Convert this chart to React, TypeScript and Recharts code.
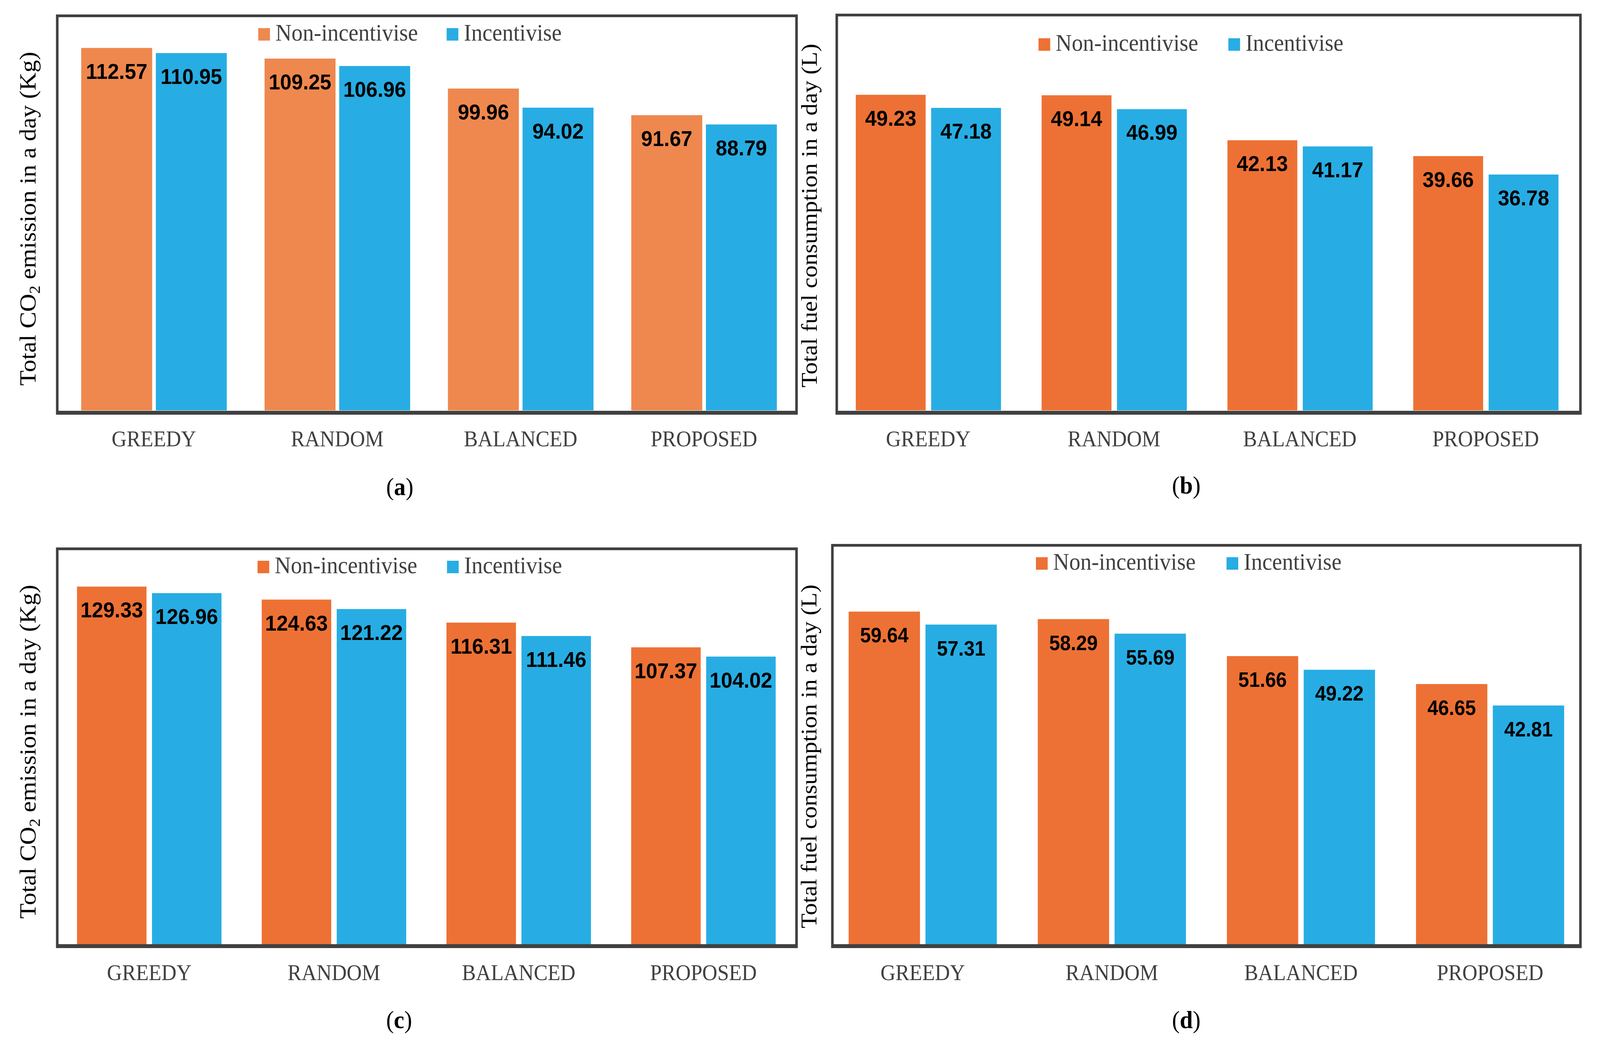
import React, { useLayoutEffect, useState } from "react";
import { BarChart, Bar, XAxis, YAxis, Legend, LabelList } from "recharts";

// categories shared by all four panels
const categories = ["GREEDY", "RANDOM", "BALANCED", "PROPOSED"];

// (a) CO2 emission, scenario 1 (Kg)
const co2NonIncA = [112.57, 109.25, 99.96, 91.67];
const co2IncA = [110.95, 106.96, 94.02, 88.79];

// (b) fuel consumption, scenario 1 (L)
const fuelNonIncB = [49.23, 49.14, 42.13, 39.66];
const fuelIncB = [47.18, 46.99, 41.17, 36.78];

// (c) CO2 emission, scenario 2 (Kg)
const co2NonIncC = [129.33, 124.63, 116.31, 107.37];
const co2IncC = [126.96, 121.22, 111.46, 104.02];

// (d) fuel consumption, scenario 2 (L)
const fuelNonIncD = [59.64, 58.29, 51.66, 46.65];
const fuelIncD = [57.31, 55.69, 49.22, 42.81];

const seriesNames = ["Non-incentivise", "Incentivise"];

const PAGE_W = 4374;
const PAGE_H = 2689;
const Y_W = 100;
const X_H = 100;

const BLUE = "#27ADE3";
const GREY = "#404040";
const SERIF = '"Liberation Serif", "Times New Roman", serif';
const SANS = '"Liberation Sans", Arial, sans-serif';

type Panel = {
  id: string;
  non: number[];
  inc: number[];
  orange: string;
  yTitle: "co2" | "fuel";
  yMax: number;
  ppu: number; // pixels per unit
  plotLeft: number;
  plotRight: number;
  plotBottom: number;
  barSize: number;
  barGap: number;
  labelSize: number;
  frame: { left: number; top: number; width: number; height: number };
  legend: { left: number; baseline: number; itemGap: number };
  titleX: number;
  titleY: number;
  captionX: number;
  captionY: number;
};

const panels: Panel[] = [
  {
    id: "a",
    non: co2NonIncA,
    inc: co2IncA,
    orange: "#EE884E",
    yTitle: "co2",
    yMax: 120,
    ppu: 8.246,
    plotLeft: 170,
    plotRight: 2175,
    plotBottom: 1051,
    barSize: 194,
    barGap: 10,
    labelSize: 56,
    frame: { left: 153, top: 37, width: 2028, height: 1025 },
    legend: { left: 706, baseline: 104, itemGap: 515 },
    titleX: 97,
    titleY: 560,
    captionX: 1093,
    captionY: 1268,
  },
  {
    id: "b",
    non: fuelNonIncB,
    inc: fuelIncB,
    orange: "#ED7134",
    yTitle: "fuel",
    yMax: 60,
    ppu: 16.42,
    plotLeft: 2283.5,
    plotRight: 4315.5,
    plotBottom: 1051,
    barSize: 191,
    barGap: 15,
    labelSize: 56,
    frame: { left: 2284, top: 35, width: 2040, height: 1027 },
    legend: { left: 2839, baseline: 130, itemGap: 519 },
    titleX: 2233,
    titleY: 552,
    captionX: 3243,
    captionY: 1264,
  },
  {
    id: "c",
    non: co2NonIncC,
    inc: co2IncC,
    orange: "#ED7134",
    yTitle: "co2",
    yMax: 140,
    ppu: 7.08,
    plotLeft: 155.5,
    plotRight: 2175.5,
    plotBottom: 2418,
    barSize: 190,
    barGap: 15,
    labelSize: 56,
    frame: { left: 153, top: 1402, width: 2028, height: 1026 },
    legend: { left: 704, baseline: 1468, itemGap: 518 },
    titleX: 97,
    titleY: 1925,
    captionX: 1091,
    captionY: 2633,
  },
  {
    id: "d",
    non: fuelNonIncD,
    inc: fuelIncD,
    orange: "#ED7134",
    yTitle: "fuel",
    yMax: 70,
    ppu: 14.28,
    plotLeft: 2264,
    plotRight: 4332,
    plotBottom: 2418,
    barSize: 195,
    barGap: 15,
    labelSize: 53,
    frame: { left: 2272, top: 1393, width: 2052, height: 1035 },
    legend: { left: 2832, baseline: 1459, itemGap: 521 },
    titleX: 2232,
    titleY: 1937,
    captionX: 3243,
    captionY: 2633,
  },
];

function LegendBox({ payload, itemGap }: any) {
  // keep the series order (recharts sorts legend items by name otherwise)
  const items = [...(payload || [])].sort(
    (a: any, b: any) => seriesNames.indexOf(a.value) - seriesNames.indexOf(b.value)
  );
  return (
    <svg width={1000} height={80} style={{ display: "block", overflow: "visible" }}>
      {items.map((it: any, i: number) => (
        <g key={it.value} transform={`translate(${i * itemGap},0)`}>
          <rect x={0} y={28} width={32} height={32} fill={it.color} />
          <text x={47} y={60} fontFamily={SERIF} fontSize={61} fill={GREY}>
            {it.value}
          </text>
        </g>
      ))}
    </svg>
  );
}

function PanelChart({ p }: { p: Panel }) {
  const data = categories.map((name, i) => ({ name, non: p.non[i], inc: p.inc[i] }));
  const plotTop = p.plotBottom - p.yMax * p.ppu;

  const renderTick = (props: any) => (
    <text
      x={props.x}
      y={Number(props.y) + 92}
      textAnchor="middle"
      fontFamily={SERIF}
      fontSize={57}
      fill={GREY}
    >
      {props.payload.value}
    </text>
  );

  const renderValue = (props: any) => {
    const x = Number(props.x);
    const y = Number(props.y);
    const w = Number(props.width);
    return (
      <text
        x={x + w / 2}
        y={y + 79}
        textAnchor="middle"
        fontFamily={SANS}
        fontWeight="bold"
        fontSize={p.labelSize}
        fill="#000"
      >
        {Number(props.value).toFixed(2)}
      </text>
    );
  };

  const renderYTitle = () => (
    <text
      transform={`translate(${p.titleX},${p.titleY}) rotate(-90)`}
      textAnchor="middle"
      fontFamily={SERIF}
      fontSize={p.yTitle === "co2" ? 64 : 62}
      fill="#000"
    >
      {p.yTitle === "co2" ? (
        <>
          <tspan>Total CO</tspan>
          <tspan fontSize={42} dy={12}>2</tspan>
          <tspan dy={-12}> emission in a day (Kg)</tspan>
        </>
      ) : (
        "Total fuel consumption in a day (L)"
      )}
    </text>
  );

  const renderCaption = () => (
    <text
      x={p.captionX}
      y={p.captionY}
      textAnchor="middle"
      fontFamily={SERIF}
      fontSize={64}
      fill="#000"
    >
      (<tspan fontWeight="bold">{p.id}</tspan>)
    </text>
  );

  return (
    <div style={{ position: "absolute", left: 0, top: 0 }}>
      <BarChart
        width={PAGE_W}
        height={PAGE_H}
        data={data}
        barGap={p.barGap}
        margin={{
          left: p.plotLeft - Y_W,
          right: PAGE_W - p.plotRight,
          top: plotTop,
          bottom: PAGE_H - p.plotBottom - X_H,
        }}
      >
        <XAxis
          dataKey="name"
          height={X_H}
          interval={0}
          tickSize={0}
          tickMargin={0}
          axisLine={false}
          tickLine={false}
          tick={renderTick}
          label={renderCaption}
        />
        <YAxis
          type="number"
          domain={[0, p.yMax]}
          allowDataOverflow
          width={Y_W}
          tick={false}
          axisLine={false}
          tickLine={false}
          label={renderYTitle}
        />
        <Legend
          layout="horizontal"
          verticalAlign="middle"
          align="center"
          wrapperStyle={{
            left: p.legend.left,
            top: p.legend.baseline - 60,
            width: 1000,
            height: 80,
          }}
          content={(props: any) => <LegendBox payload={props.payload} itemGap={p.legend.itemGap} />}
        />
        <Bar
          dataKey="non"
          name={seriesNames[0]}
          fill={p.orange}
          barSize={p.barSize}
          isAnimationActive={false}
        >
          <LabelList dataKey="non" content={renderValue} />
        </Bar>
        <Bar
          dataKey="inc"
          name={seriesNames[1]}
          fill={BLUE}
          barSize={p.barSize}
          isAnimationActive={false}
        >
          <LabelList dataKey="inc" content={renderValue} />
        </Bar>
      </BarChart>
      {/* chart border, thicker at the bottom like the axis line */}
      <div
        style={{
          position: "absolute",
          left: p.frame.left,
          top: p.frame.top,
          width: p.frame.width,
          height: p.frame.height,
          boxSizing: "border-box",
          borderStyle: "solid",
          borderColor: GREY,
          borderWidth: "7px 7px 10px 7px",
          pointerEvents: "none",
        }}
      />
    </div>
  );
}

export default function App() {
  // fit the fixed-size figure into whatever viewport the page really gets
  const [fit, setFit] = useState({ sx: 1, sy: 1 });
  useLayoutEffect(() => {
    const update = () =>
      setFit({
        sx: Math.min(1, window.innerWidth / PAGE_W),
        sy: Math.min(1, window.innerHeight / PAGE_H),
      });
    update();
    window.addEventListener("resize", update);
    return () => window.removeEventListener("resize", update);
  }, []);

  return (
    <div style={{ width: "100vw", height: "100vh", overflow: "hidden", background: "#fff" }}>
      <style>{"html,body{margin:0;padding:0;overflow:hidden}"}</style>
      <div
        style={{
          position: "relative",
          width: PAGE_W,
          height: PAGE_H,
          background: "#fff",
          transformOrigin: "0 0",
          transform: `scale(${fit.sx}, ${fit.sy})`,
        }}
      >
        {panels.map((p) => (
          <PanelChart key={p.id} p={p} />
        ))}
      </div>
    </div>
  );
}
